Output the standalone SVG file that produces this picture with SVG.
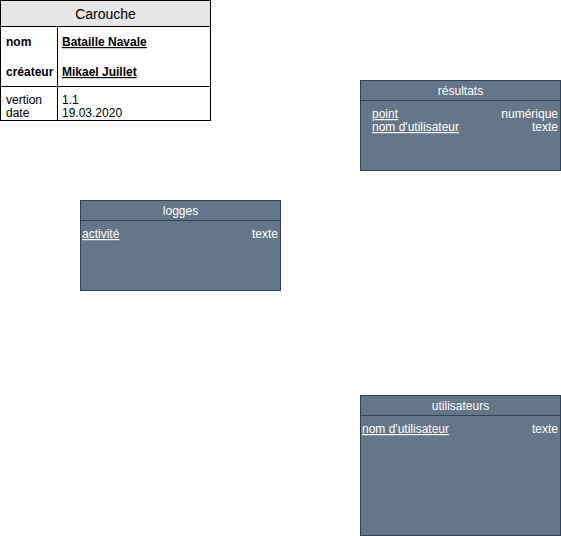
<svg xmlns="http://www.w3.org/2000/svg" width="561" height="536" viewBox="0 0 561 536">
<style>
.t{font-family:"Liberation Sans",Arial,sans-serif;font-size:12px;fill:#000}
.b{font-weight:bold}
.w{font-family:"Liberation Sans",Arial,sans-serif;font-size:12px;fill:#fff}
.box{fill:#647687;stroke:#314354;stroke-width:1}
.ln{stroke:#314354;stroke-width:1}
.k{stroke:#000;stroke-width:1}
</style>
<rect width="561" height="536" fill="#fff"/>
<g id="carouche">
<rect x="0.5" y="0.5" width="210" height="120" fill="#fff" stroke="#000"/>
<rect x="0.5" y="0.5" width="210" height="26" fill="#e6e6e6" stroke="#000"/>
<line class="k" x1="0.5" y1="86.5" x2="210.5" y2="86.5"/>
<line class="k" x1="57.5" y1="26.5" x2="57.5" y2="120.5"/>
<text class="t" x="105.5" y="19" text-anchor="middle" style="font-size:14px">Carouche</text>
<text class="t b" x="6" y="46">nom</text>
<text class="t b" x="62" y="46" text-decoration="underline">Bataille Navale</text>
<text class="t b" x="6" y="76">créateur</text>
<text class="t b" x="62" y="76" text-decoration="underline">Mikael Juillet</text>
<text class="t" x="6" y="104">vertion</text>
<text class="t" x="6" y="117">date</text>
<text class="t" x="62" y="104">1.1</text>
<text class="t" x="62" y="117">19.03.2020</text>
</g>
<g id="resultats">
<rect class="box" x="360.5" y="80.5" width="200" height="90"/>
<line class="ln" x1="360.5" y1="100.5" x2="560.5" y2="100.5"/>
<text class="w" x="460.5" y="95" text-anchor="middle">résultats</text>
<text class="w" x="372" y="118" text-decoration="underline">point</text>
<text class="w" x="372" y="131" text-decoration="underline">nom d'utilisateur</text>
<text class="w" x="558" y="118" text-anchor="end">numérique</text>
<text class="w" x="558" y="131" text-anchor="end">texte</text>
</g>
<g id="logges">
<rect class="box" x="80.5" y="200.5" width="200" height="90"/>
<line class="ln" x1="80.5" y1="220.5" x2="280.5" y2="220.5"/>
<text class="w" x="180.5" y="215" text-anchor="middle">logges</text>
<text class="w" x="82" y="238" text-decoration="underline">activité</text>
<text class="w" x="278" y="238" text-anchor="end">texte</text>
</g>
<g id="utilisateurs">
<rect class="box" x="360.5" y="395.5" width="200" height="140"/>
<line class="ln" x1="360.5" y1="415.5" x2="560.5" y2="415.5"/>
<text class="w" x="460.5" y="410" text-anchor="middle">utilisateurs</text>
<text class="w" x="362" y="433" text-decoration="underline">nom d'utilisateur</text>
<text class="w" x="558" y="433" text-anchor="end">texte</text>
</g>
<g id="connectors"></g>
</svg>
